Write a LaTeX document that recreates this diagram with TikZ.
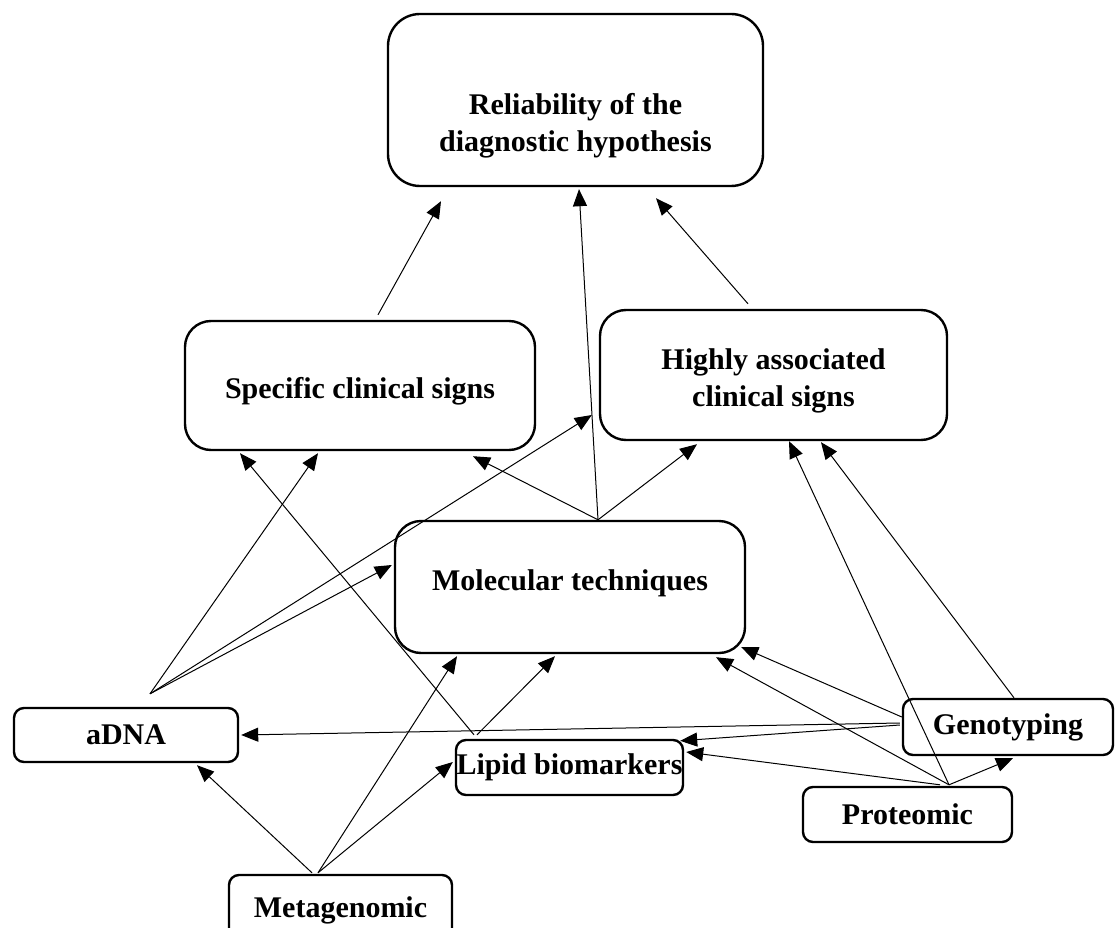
\documentclass[tikz,border=0pt]{standalone}
\usepackage{fontspec}
\setmainfont{Liberation Serif}
\usetikzlibrary{arrows.meta}

\begin{document}
\begin{tikzpicture}[x=1pt, y=-1pt, every node/.style={font=\fontsize{30}{37}\selectfont\bfseries}]
    \tikzstyle{bigbox} = [rectangle, draw, line width=2.4pt, rounded corners=26pt, align=center, inner sep=0pt]
    \tikzstyle{smallbox} = [rectangle, draw, line width=2.4pt, rounded corners=10pt, align=center, inner sep=0pt]
    \tikzstyle{arr} = [-{Triangle[length=17pt,width=14pt]}, line width=1pt]
    \useasboundingbox (0,0) rectangle (1116,928);

    \node (reliab) [bigbox, rounded corners=32pt, minimum width=375pt, minimum height=172pt, text height=110pt] at (575.5,100) {Reliability of the\\diagnostic hypothesis};
    \node (specific) [bigbox, minimum width=350pt, minimum height=129pt, text height=32pt] at (360,385.5) {Specific clinical signs};
    \node (highly) [bigbox, minimum width=347pt, minimum height=130pt, text height=70pt] at (773.5,375) {Highly associated\\clinical signs};
    \node (molecular) [bigbox, minimum width=350pt, minimum height=132pt, text height=20pt, text depth=14pt] at (570,587) {Molecular techniques};
    \node (adna) [smallbox, minimum width=224pt, minimum height=54pt] at (126,735) {aDNA};
    \node (genotyping) [smallbox, minimum width=210pt, minimum height=56pt] at (1008,727) {Genotyping};
    \node (lipid) [smallbox, minimum width=227pt, minimum height=55pt] at (569.5,767.5) {Lipid biomarkers};
    \node (proteomic) [smallbox, minimum width=209pt, minimum height=55pt] at (907.5,814.5) {Proteomic};
    % bottom box runs off the page
    \node (metagenomic) [smallbox, minimum width=223pt, minimum height=70pt] at (340.5,910) {Metagenomic};

    % towards the diagnostic hypothesis
    \draw [arr] ([xshift=18pt,yshift=5pt]specific.north) -- ([xshift=-134.5pt,yshift=-14pt]reliab.south);
    \draw [arr] ([xshift=28pt]molecular.north) -- ([xshift=3.5pt,yshift=-2pt]reliab.south);
    \draw [arr] ([xshift=-25.5pt,yshift=5pt]highly.north) -- ([xshift=80.5pt,yshift=-11pt]reliab.south);

    % molecular techniques
    \draw [arr] ([xshift=28pt]molecular.north) -- ([xshift=113pt,yshift=-5pt]specific.south);
    \draw [arr] ([xshift=28pt]molecular.north) -- ([xshift=-76.5pt,yshift=-3pt]highly.south);

    % aDNA
    \draw [arr] ([xshift=24pt,yshift=13pt]adna.north) -- ([xshift=-42pt,yshift=-2pt]specific.south);
    \draw [arr] ([xshift=24pt,yshift=13pt]adna.north) -- ([xshift=-7pt,yshift=-40pt]highly.west);
    \draw [arr] ([xshift=24pt,yshift=13pt]adna.north) -- ([xshift=-2pt,yshift=22pt]molecular.west);

    % lipid biomarkers
    \draw [arr] ([xshift=-95.5pt,yshift=4pt]lipid.north) -- ([xshift=-120pt,yshift=-2pt]specific.south);
    \draw [arr] ([xshift=-92.5pt,yshift=4pt]lipid.north) -- ([xshift=-15pt,yshift=-2pt]molecular.south);

    % metagenomic
    \draw [arr] ([xshift=-28.5pt,yshift=1pt]metagenomic.north) -- ([xshift=71pt,yshift=-2pt]adna.south);
    \draw [arr] ([xshift=-22.5pt,yshift=1pt]metagenomic.north) -- ([xshift=-113pt,yshift=-2pt]molecular.south);
    \draw [arr] ([xshift=-22.5pt,yshift=1pt]metagenomic.north) -- ([xshift=-2pt,yshift=5.5pt]lipid.west);

    % genotyping
    \draw [arr] ([yshift=10pt]genotyping.west) -- ([xshift=-5pt,yshift=-60pt]molecular.east);
    \draw [arr] ([xshift=-2pt,yshift=4pt]genotyping.west) -- ([xshift=2pt]adna.east);
    \draw [arr] ([xshift=-2pt,yshift=2pt]genotyping.west) -- ([xshift=-4pt,yshift=-2pt]lipid.north east);
    \draw [arr] ([xshift=6pt]genotyping.north) -- ([xshift=47.5pt,yshift=-1pt]highly.south);

    % proteomic
    \draw [arr] ([xshift=41.5pt,yshift=1pt]proteomic.north) -- ([xshift=5pt,yshift=-2pt]genotyping.south);
    \draw [arr] ([xshift=41.5pt,yshift=1pt]proteomic.north) -- ([xshift=146pt,yshift=-3pt]molecular.south);
    \draw [arr] ([xshift=41.5pt,yshift=1pt]proteomic.north) -- ([xshift=15.5pt]highly.south);
    \draw [arr] ([xshift=32.5pt,yshift=1pt]proteomic.north) -- ([xshift=2pt,yshift=15.5pt]lipid.east);

\end{tikzpicture}
\end{document}
